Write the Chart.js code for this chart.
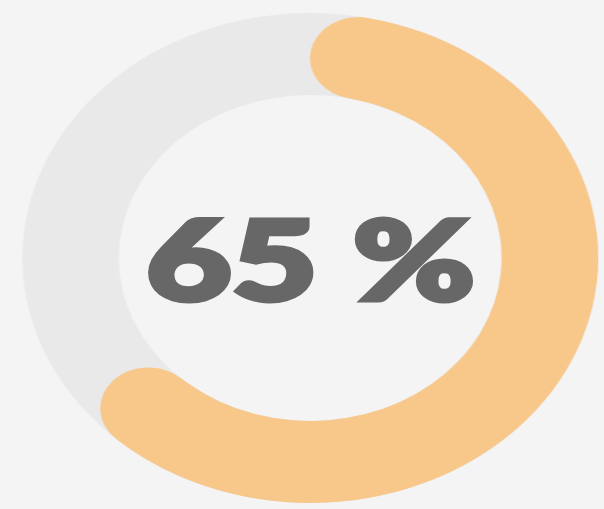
<!DOCTYPE html>
<html>
<head>
<meta charset="utf-8">
<script src="https://cdn.jsdelivr.net/npm/chart.js@4.4.1/dist/chart.umd.min.js"></script>
<style>
  html, body { margin: 0; padding: 0; background: #F4F4F5; }
  #wrap { position: relative; width: 604px; height: 509px; overflow: hidden; background: #F4F4F5; }
  canvas.ring { position: absolute; left: 0; top: 0; width: 604px !important; height: 509px !important; }
  #label {
    position: absolute; left: 0; top: 0; white-space: nowrap;
    font-family: "Lato", "Inter", sans-serif; font-weight: 900;
    color: #676767; line-height: 1; transform-origin: 0 0;
    -webkit-text-stroke: 5px #676767;
  }
</style>
</head>
<body>
<div id="wrap">
  <canvas id="bg" class="ring" width="514" height="509"></canvas>
  <canvas id="fg" class="ring" width="514" height="509"></canvas>
  <div id="label"></div>
</div>
<script>
// ---- data ----
const categories = ['Completed', 'Remaining'];
const values = [65, 35];
const trackValues = [100];
const centerLabel = values[0] + ' %';

// ---- styles ----
const ORANGE = '#F8C78A';
const TRACK = '#E9E9EA';
const padding = { left: 19, right: 5, top: 13, bottom: 6 };

const common = {
  responsive: false,
  animation: false,
  cutout: '66.5%',
  rotation: 0,
  layout: { padding },
  plugins: { legend: { display: false }, tooltip: { enabled: false } },
  events: []
};

new Chart(document.getElementById('bg'), {
  type: 'doughnut',
  data: {
    labels: ['Track'],
    datasets: [{ data: trackValues, backgroundColor: [TRACK], borderWidth: 0 }]
  },
  options: common
});

new Chart(document.getElementById('fg'), {
  type: 'doughnut',
  data: {
    labels: categories,
    datasets: [{
      data: values,
      backgroundColor: [ORANGE, 'rgba(0,0,0,0)'],
      borderWidth: 0,
      borderRadius: [200, 0]
    }]
  },
  options: common
});

// center text, fitted to target box
const lab = document.getElementById('label');
lab.textContent = centerLabel;
lab.style.fontSize = '110px';
const targetLeft = 146, targetRight = 475, targetCenterY = 258;
const box = lab.getBoundingClientRect();
const w = box.width, h = box.height;
const sx = (targetRight - targetLeft) / w;
lab.style.left = targetLeft + 'px';
lab.style.top = (targetCenterY - h / 2 - 1) + 'px';
lab.style.transform = 'scaleX(' + sx + ')';
</script>
</body>
</html>
